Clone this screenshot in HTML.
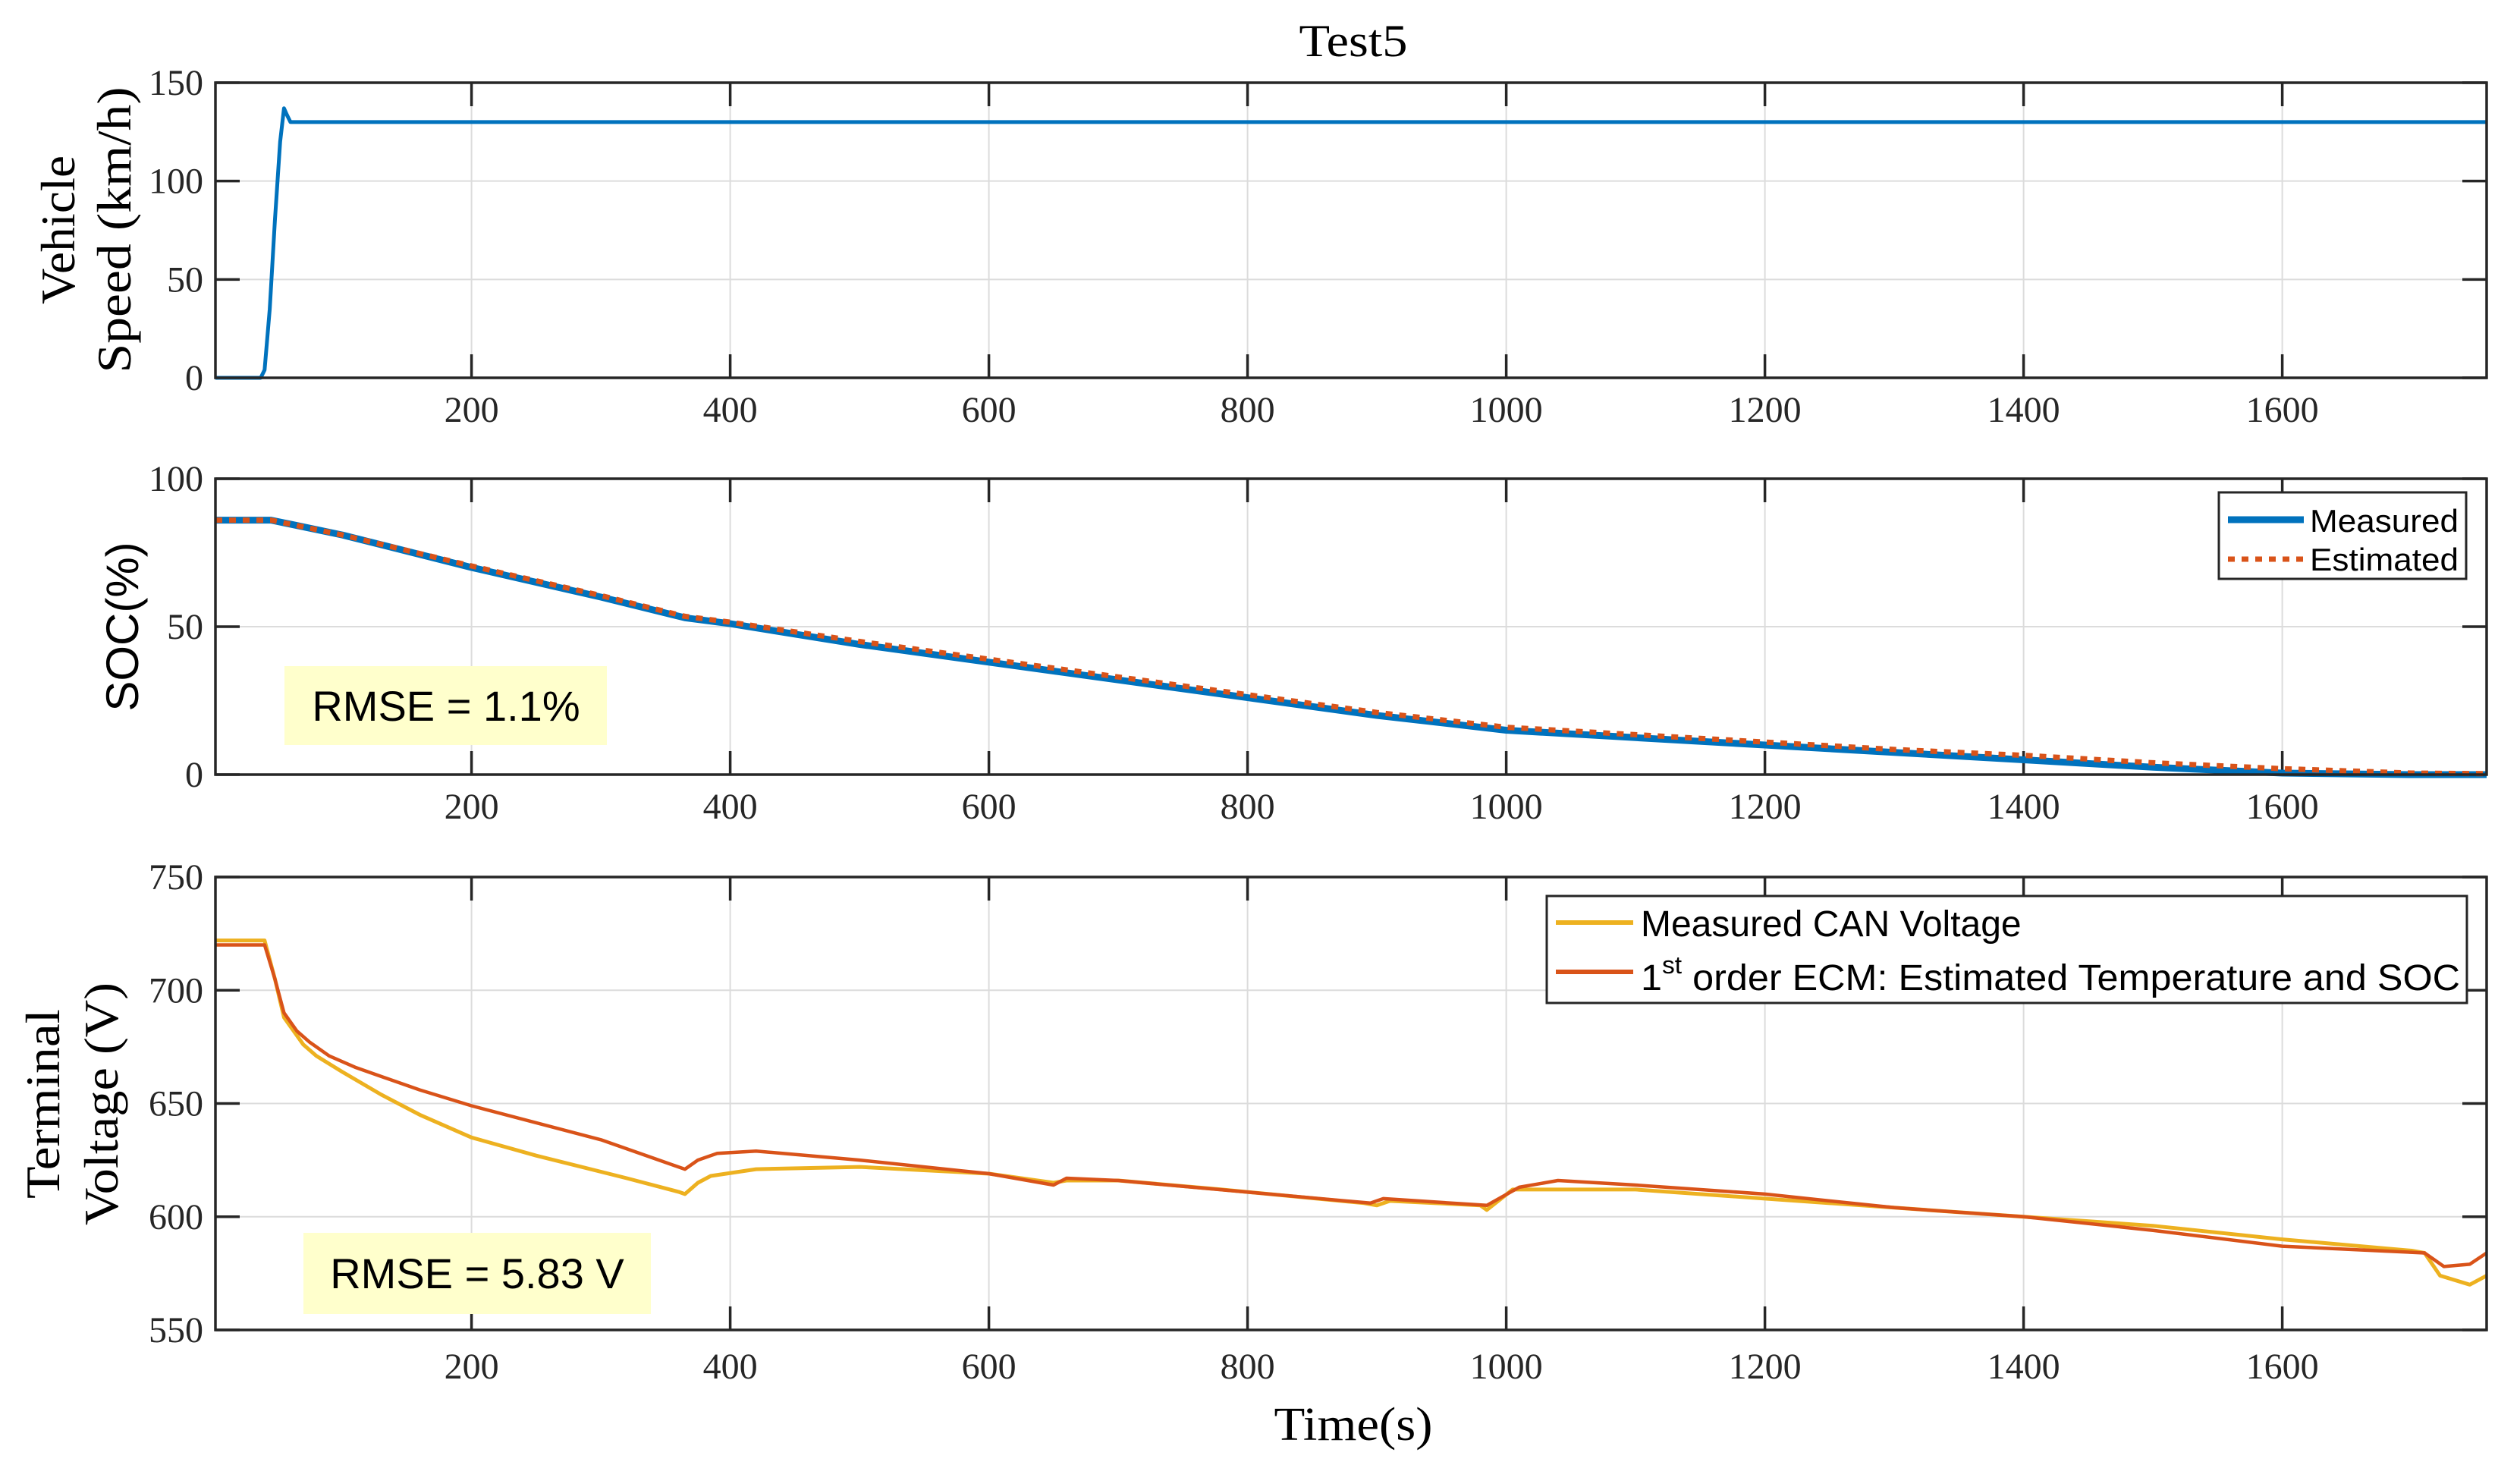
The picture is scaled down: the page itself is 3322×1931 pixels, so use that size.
<!DOCTYPE html>
<html><head><meta charset="utf-8">
<style>
html,body{margin:0;padding:0;background:#fff;}
svg{display:block;}
.serif{font-family:"Liberation Serif",serif;}
.sans{font-family:"Liberation Sans",sans-serif;}
</style></head>
<body>
<svg id="chart" width="3322" height="1931" viewBox="0 0 3322 1931" xmlns="http://www.w3.org/2000/svg">
<rect width="3322" height="1931" fill="#fff"/>
<text class="serif" x="1784" y="74" font-size="60" text-anchor="middle" textLength="143" lengthAdjust="spacingAndGlyphs">Test5</text>
<text class="serif" x="1784" y="1898" font-size="62" text-anchor="middle" textLength="209" lengthAdjust="spacingAndGlyphs">Time(s)</text>
<g class="serif" font-size="64">
<text transform="translate(98,303) rotate(-90)" text-anchor="middle" textLength="196" lengthAdjust="spacingAndGlyphs">Vehicle</text>
<text transform="translate(172,303) rotate(-90)" text-anchor="middle" textLength="377" lengthAdjust="spacingAndGlyphs">Speed (km/h)</text>
</g>
<text class="sans" transform="translate(182,826) rotate(-90)" font-size="60" text-anchor="middle">SOC(%)</text>
<g class="serif" font-size="64">
<text transform="translate(78,1455) rotate(-90)" text-anchor="middle" textLength="250" lengthAdjust="spacingAndGlyphs">Terminal</text>
<text transform="translate(155,1455) rotate(-90)" text-anchor="middle" textLength="320" lengthAdjust="spacingAndGlyphs">Voltage (V)</text>
</g>
<g id="p1"></g><g id="p2"></g><g id="p3"></g>
</svg>
<script>
const xTicks=[200,400,600,800,1000,1200,1400,1600];
const speedTicks=[0,50,100,150];
const socTicks=[0,50,100];
const voltTicks=[550,600,650,700,750];
const speedT=[2,37,40,44,48,52,55,57,60,200,600,1000,1400,1758];
const speedV=[0,0,4,35,80,120,137,134,130,130,130,130,130,130];
const socT=[2,45,100,200,300,365,400,500,600,700,800,900,1000,1100,1200,1300,1400,1500,1600,1700,1758];
const socMeas=[86,86,81,70,60,53,51,44,38,32,26,20,15,12.5,10,7.5,5,2.5,0.5,0,0];
const socEst=[86,86,81,70.5,60.5,53.5,51.5,45,39,33,27,21,16,13.5,11,8.5,6.5,4,2,0.5,0.3];
const vMeasT=[2,40,48,55,70,80,100,130,160,200,250,320,360,365,375,385,420,500,600,650,660,700,780,890,900,910,980,985,1005,1100,1200,1300,1400,1500,1600,1700,1710,1722,1745,1758];
const vMeas=[722,722,705,688,676,671,664,654,645,635,627,617,611,610,615,618,621,622,619,615,616,616,612,606,605,607,605,603,612,612,608,604,600,596,590,585,584,574,570,574];
const vEstT=[2,40,48,55,65,75,90,110,130,160,200,300,365,375,390,420,500,600,650,660,700,895,905,985,1010,1040,1100,1200,1300,1400,1500,1600,1710,1725,1745,1758];
const vEst=[720,720,705,690,682,677,671,666,662,656,649,634,621,625,628,629,625,619,614,617,616,606,608,605,613,616,614,610,604,600,594,587,584,578,579,584];

const NS="http://www.w3.org/2000/svg";
const X0=2,X1=1758,L=284,R=3278;
const xs=t=>L+(t-X0)/(X1-X0)*(R-L);
function mk(tag,attrs,parent){const e=document.createElementNS(NS,tag);for(const k in attrs)e.setAttribute(k,attrs[k]);parent.appendChild(e);return e;}
function panel(g,top,bot,y0,y1,yt,lblY){
  const ys=v=>bot-(v-y0)/(y1-y0)*(bot-top);
  const grid=mk('g',{},g);
  
  
  xTicks.forEach(t=>{mk('line',{x1:xs(t),x2:xs(t),y1:top,y2:bot,stroke:'#dcdcdc','stroke-width':2},grid);});
  yt.forEach(v=>{if(v>y0&&v<y1)mk('line',{x1:L,x2:R,y1:ys(v),y2:ys(v),stroke:'#dcdcdc','stroke-width':2},grid);});
  const ax=mk('g',{stroke:'#262626','stroke-width':3.5},g);
  
  
  xTicks.forEach(t=>{mk('line',{x1:xs(t),x2:xs(t),y1:top,y2:top+31},ax);mk('line',{x1:xs(t),x2:xs(t),y1:bot,y2:bot-31},ax);});
  yt.forEach(v=>{mk('line',{x1:L,x2:L+32,y1:ys(v),y2:ys(v)},ax);mk('line',{x1:R,x2:R-32,y1:ys(v),y2:ys(v)},ax);});
  const xl=mk('g',{'font-family':'Liberation Serif, serif','font-size':48,fill:'#262626','text-anchor':'middle'},g);
  
  
  xTicks.forEach(t=>{const e=mk('text',{x:xs(t),y:lblY},xl);e.textContent=t;});
  const yl=mk('g',{'font-family':'Liberation Serif, serif','font-size':48,fill:'#262626','text-anchor':'end'},g);
  
  
  yt.forEach(v=>{const e=mk('text',{x:268,y:ys(v)+16},yl);e.textContent=v;});
  return {ys,ax,top,bot};
}
function path(T,V,ys){return T.map((t,i)=>(i?'L':'M')+xs(t).toFixed(1)+','+ys(V[i]).toFixed(1)).join(' ');}
function frame(g,top,bot){const f=mk('rect',{x:L,y:top,width:R-L,height:bot-top,fill:'none',stroke:'#262626','stroke-width':3.5},g);

}

// Panel 1
const g1=document.getElementById('p1');


const P1=panel(g1,109,498,0,150,speedTicks,556);
const s1=mk('path',{d:path(speedT,speedV,P1.ys),fill:'none',stroke:'#0072BD','stroke-width':5,'stroke-linejoin':'round'},g1);


frame(g1,109,498);

// Panel 2
const g2=document.getElementById('p2');


const P2=panel(g2,631,1021,0,100,socTicks,1079);
const s2=mk('path',{d:path(socT,socMeas,P2.ys),fill:'none',stroke:'#0072BD','stroke-width':9,'stroke-linejoin':'round'},g2);


const s3=mk('path',{d:path(socT,socEst,P2.ys),fill:'none',stroke:'#D95319','stroke-width':7,'stroke-dasharray':'9 9'},g2);


frame(g2,631,1021);
const b1=mk('g',{},g2);


mk('rect',{x:375,y:878,width:425,height:104,fill:'#FFFFCC'},b1);
const bt1=mk('text',{x:588,y:950,'font-family':'Liberation Sans, sans-serif','font-size':56,'text-anchor':'middle'},b1);bt1.textContent='RMSE = 1.1%';
const lg2=mk('g',{},g2);


mk('rect',{x:2925,y:649,width:326,height:114,fill:'#fff',stroke:'#262626','stroke-width':3},lg2);
mk('line',{x1:2937,x2:3037,y1:685,y2:685,stroke:'#0072BD','stroke-width':9},lg2);
mk('line',{x1:2937,x2:3037,y1:737,y2:737,stroke:'#D95319','stroke-width':7,'stroke-dasharray':'9 9'},lg2);
const l2a=mk('text',{x:3045,y:701,'font-family':'Liberation Sans, sans-serif','font-size':42,textLength:196,lengthAdjust:'spacingAndGlyphs'},lg2);l2a.textContent='Measured';
const l2b=mk('text',{x:3045,y:752,'font-family':'Liberation Sans, sans-serif','font-size':42,textLength:196,lengthAdjust:'spacingAndGlyphs'},lg2);l2b.textContent='Estimated';

// Panel 3
const g3=document.getElementById('p3');


const P3=panel(g3,1156,1753,550,750,voltTicks,1817);
const s4=mk('path',{d:path(vMeasT,vMeas,P3.ys),fill:'none',stroke:'#EDB120','stroke-width':5,'stroke-linejoin':'round'},g3);


const s5=mk('path',{d:path(vEstT,vEst,P3.ys),fill:'none',stroke:'#D95319','stroke-width':4.5,'stroke-linejoin':'round'},g3);


frame(g3,1156,1753);
const b2=mk('g',{},g3);


mk('rect',{x:400,y:1625,width:458,height:107,fill:'#FFFFCC'},b2);
const bt2=mk('text',{x:629,y:1698,'font-family':'Liberation Sans, sans-serif','font-size':56,'text-anchor':'middle'},b2);bt2.textContent='RMSE = 5.83 V';
const lg3=mk('g',{},g3);


mk('rect',{x:2039,y:1181,width:1213,height:141,fill:'#fff',stroke:'#262626','stroke-width':3},lg3);
mk('line',{x1:2051,x2:2153,y1:1216,y2:1216,stroke:'#EDB120','stroke-width':6},lg3);
mk('line',{x1:2051,x2:2153,y1:1281,y2:1281,stroke:'#D95319','stroke-width':6},lg3);
const l3a=mk('text',{x:2163,y:1234,'font-family':'Liberation Sans, sans-serif','font-size':48},lg3);l3a.textContent='Measured CAN Voltage';
const l3b=mk('text',{x:2163,y:1305,'font-family':'Liberation Sans, sans-serif','font-size':48,textLength:1080,lengthAdjust:'spacingAndGlyphs'},lg3);
l3b.innerHTML='1<tspan dy="-22" font-size="32">st</tspan><tspan dy="22"> order ECM: Estimated Temperature and SOC</tspan>';
</script>
</body></html>
